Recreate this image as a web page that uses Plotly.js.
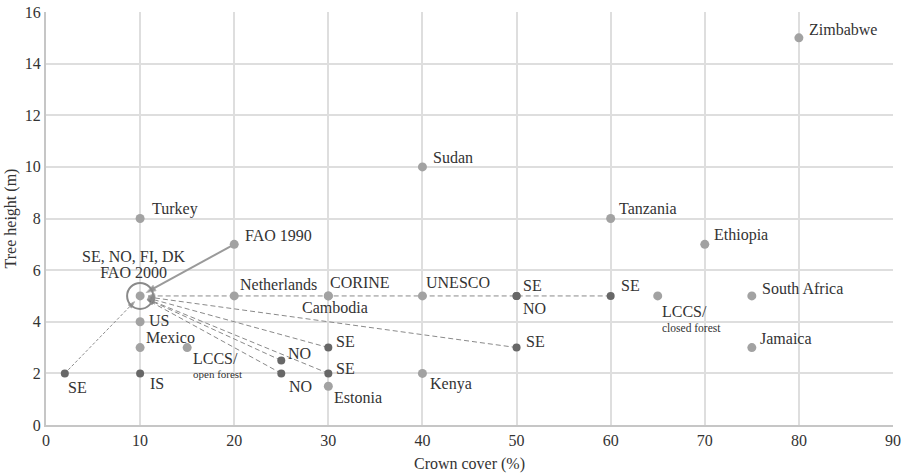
<!DOCTYPE html>
<html>
<head>
<meta charset="utf-8">
<script src="https://cdn.plot.ly/plotly-3.0.1.min.js"></script>
<style>html,body{margin:0;padding:0;background:#fff;}#chart{width:908px;height:473px;}</style>
</head>
<body>
<div id="chart"></div>
<script>
// ---- data ----
const labels = ["Zimbabwe","Sudan","Turkey","Tanzania","Ethiopia","FAO 1990","Netherlands","CORINE","Cambodia","UNESCO",
  "SE","NO","SE","<span style='font-size:16px'>LCCS/</span><br>closed forest","South Africa","Jamaica","Kenya","Estonia","US","Mexico",
  "<span style='font-size:16px'>LCCS/</span><br>open forest","IS","SE","NO","NO","SE","SE","SE",
  "<span style='font-size:16px'>SE, NO, FI, DK</span><br><span style='font-size:16px'>FAO 2000</span>"];
const crownCover = [80,40,10,60,70,20,20,30,30,40, 50,50,60,65,75,75,40,30,10,10, 15,10,2,25,25,30,30,50,10];
const treeHeight = [15,10,8,8,7,7,5,5,5,5, 5,5,5,5,5,3,2,1.5,4,3, 3,2,2,2.5,2,3,2,3,5];
const group = ["L","L","L","L","L","L","L","L","L","L", "D","D","D","L","L","L","L","L","L","L", "L","D","D","D","D","D","D","D","L"];
const hubIndex = 28;                          // SE, NO, FI, DK / FAO 2000
const dashedLinks = [12,27,25,26,23,24];      // dashed lines to hub
const dottedLinks = [22];                     // fine dashed line to hub
const solidLinks = [5];                       // FAO 1990 -> hub

// ---- label placement (style) ----
// [xanchor, yanchor, xshift, yshift, fontsize]
const place = {
  0:["left","middle",8,8], 1:["left","middle",9,9], 2:["left","middle",10,10], 3:["left","middle",6,10],
  4:["left","middle",7,9], 5:["left","middle",9,9], 6:["left","middle",4,11], 7:["left","middle",0,13],
  8:["left","middle",-28,-12], 9:["left","middle",2,13], 10:["left","middle",4,10], 11:["left","middle",4,-13],
  12:["left","middle",8,10], 13:["left","top",2,-5,11.5], 14:["left","middle",8,7], 15:["left","middle",6,9],
  16:["left","middle",6,-11], 17:["left","middle",4,-11], 18:["left","middle",7,1], 19:["left","middle",4,10],
  20:["left","top",4,0,11], 21:["left","middle",8,-10], 22:["left","middle",1,-14], 23:["left","middle",5,7],
  24:["left","middle",6,-13], 25:["left","middle",6,6], 26:["left","middle",6,5], 27:["left","middle",7,6],
  28:["center","bottom",-6,13,12.5]
};

const LIGHT = "#a2a2a2", DARK = "#676767";
const FONT = "Liberation Serif";
const FS = 16;
const traces = [];

const hx = crownCover[hubIndex], hy = treeHeight[hubIndex];
function link(i, lineStyle, arrowSize, standoff) {
  traces.push({
    x:[crownCover[i], hx], y:[treeHeight[i], hy], type:"scatter", mode:"lines+markers",
    line:lineStyle,
    marker:{symbol:["circle","arrow"], size:[0,arrowSize], color:DARK, angleref:"previous", standoff:standoff},
    hoverinfo:"skip", showlegend:false, cliponaxis:false
  });
}
dashedLinks.forEach(i => link(i, {color:"#8a8a8a", width:1, dash:"5px,3px"}, 7, 8));
dottedLinks.forEach(i => link(i, {color:"#8a8a8a", width:1, dash:"3px,2px"}, 7, 8));
solidLinks.forEach(i => link(i, {color:"#9a9a9a", width:2}, 10, 7));

["L","D"].forEach(g => {
  const idx = group.map((v,i)=>v===g?i:-1).filter(i=>i>=0);
  traces.push({
    x: idx.map(i=>crownCover[i]), y: idx.map(i=>treeHeight[i]), type:"scatter", mode:"markers",
    marker:{size: g==="L"?9:8, color: g==="L"?LIGHT:DARK},
    hoverinfo:"skip", showlegend:false, cliponaxis:false
  });
});

const annotations = labels.map((t,i) => {
  const p = place[i];
  return {x:crownCover[i], y:treeHeight[i], xref:"x", yref:"y", text:t, showarrow:false,
    xanchor:p[0], yanchor:p[1], xshift:p[2], yshift:p[3], align:"left",
    font:{family:FONT, size:p[4]||FS, color:"#333"}};
});
annotations[hubIndex].align = "center";

const layout = {
  width:908, height:473,
  margin:{l:46, r:15, t:12, b:48},
  paper_bgcolor:"#fff", plot_bgcolor:"#fff",
  font:{family:FONT, size:FS, color:"#333"},
  xaxis:{range:[0,90], dtick:10, showgrid:true, gridcolor:"#dedede", gridwidth:2,
    showline:true, linecolor:"#c6c6c6", linewidth:2, zeroline:false, ticks:"",
    tickfont:{family:FONT, size:FS, color:"#333"}, automargin:false,
    title:{text:"Crown cover (%)", font:{family:FONT, size:FS, color:"#333"}, standoff:10}},
  yaxis:{range:[0,16], dtick:2, showgrid:true, gridcolor:"#dedede", gridwidth:2,
    showline:true, linecolor:"#c6c6c6", linewidth:2, zeroline:false, ticks:"",
    tickfont:{family:FONT, size:FS, color:"#333"}, automargin:false,
    title:{text:"Tree height (m)", font:{family:FONT, size:FS, color:"#333"}, standoff:4}},
  shapes:[{type:"circle", xref:"x", yref:"y", xsizemode:"pixel", ysizemode:"pixel",
    xanchor:hx, yanchor:hy, x0:-13, x1:13, y0:-13, y1:13, line:{color:"#8a8a8a", width:2}}],
  annotations:annotations,
  showlegend:false
};

Plotly.newPlot("chart", traces, layout, {displayModeBar:false, staticPlot:true});
</script>
</body>
</html>
